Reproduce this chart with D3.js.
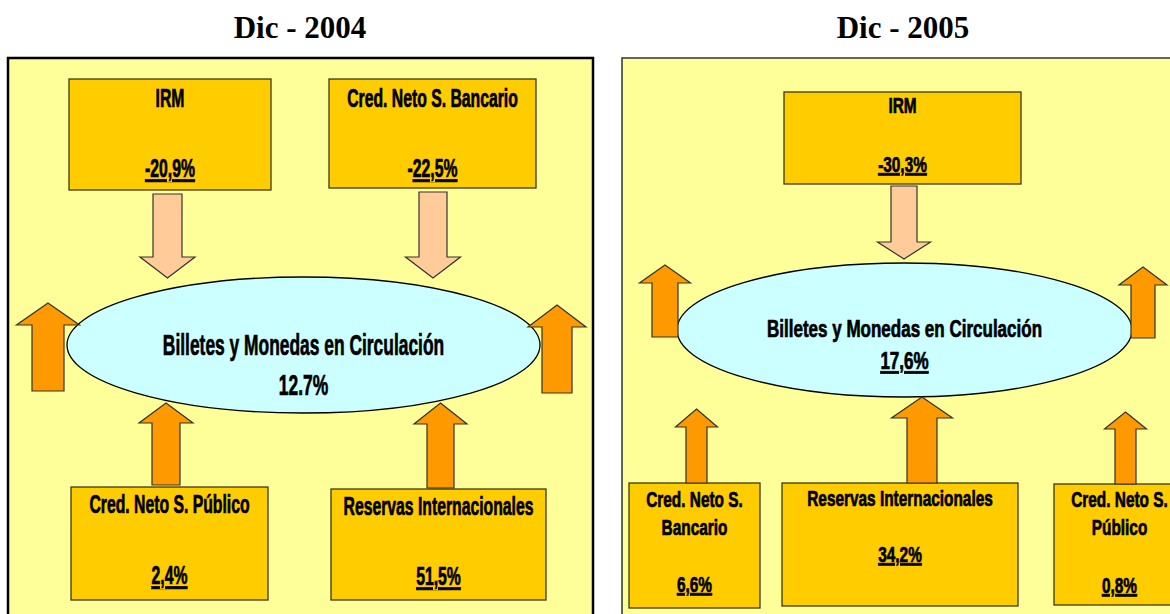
<!DOCTYPE html>
<html><head><meta charset="utf-8">
<script src="https://cdn.jsdelivr.net/npm/d3@7"></script>
<style>
html,body{margin:0;padding:0;background:#fff;}
svg{display:block;}
</style>
</head><body>
<svg id="chart" width="1170" height="614"></svg>
<script>
// ---------- DATA ----------
const panelTitles = ["Dic - 2004", "Dic - 2005"];
const centralLabel = "Billetes y Monedas en Circulación";
const centralValues = ["12.7%", "17,6%"];
const labels2004 = [["IRM"], ["Cred. Neto S. Bancario"], ["Cred. Neto S. Público"], ["Reservas Internacionales"]];
const values2004 = ["-20,9%", "-22,5%", "2,4%", "51,5%"];
const labels2005 = [["IRM"], ["Cred. Neto S.", "Bancario"], ["Reservas Internacionales"], ["Cred. Neto S.", "Público"]];
const values2005 = ["-30,3%", "6,6%", "34,2%", "0,8%"];

// ---------- LAYOUT (positions / styles) ----------
const layouts = [
  {
    panel: {x: 8, y: 58, w: 585, h: 570, stroke: "#000", sw: 2.5},
    titleX: 300,
    font: {box: 25, boxSx: 0.63, ell: 29, ellSx: 0.6},
    ellipse: {cx: 303.5, cy: 345, rx: 236.5, ry: 68, line1: 355, line2: 395, underline: false},
    boxes: [
      {x: 69, y: 79, w: 202, h: 111, lines: [107], value: 177, ulStart: 0},
      {x: 329, y: 79, w: 207, h: 109, lines: [107], value: 177, ulStart: 1},
      {x: 71, y: 487, w: 197, h: 113, lines: [513], value: 584, ulStart: 0},
      {x: 331, y: 489, w: 215, h: 111, lines: [515], value: 585, ulStart: 0}
    ],
    down: [
      {cx: 167.5, top: 194, base: 257, tip: 278, hh: 27.5, sh: 14.5},
      {cx: 433, top: 192, base: 257, tip: 278, hh: 27.5, sh: 14}
    ],
    up: [
      {cx: 48, tip: 303, base: 325, bottom: 391, hh: 31.5, sh: 16},
      {cx: 557, tip: 305, base: 327, bottom: 393, hh: 29, sh: 15},
      {cx: 166, tip: 403, base: 423, bottom: 485, hh: 27, sh: 14},
      {cx: 440.5, tip: 403, base: 424, bottom: 488, hh: 26.5, sh: 13.5}
    ]
  },
  {
    panel: {x: 622, y: 58, w: 570, h: 570, stroke: "#333", sw: 1.5},
    titleX: 903,
    font: {box: 22, boxSx: 0.70, ell: 23, ellSx: 0.74},
    ellipse: {cx: 904.5, cy: 330, rx: 227.5, ry: 67, line1: 337, line2: 369, underline: true},
    boxes: [
      {x: 784, y: 92, w: 237, h: 92, lines: [113], value: 172, ulStart: 0},
      {x: 629, y: 483, w: 131, h: 125, lines: [507, 535], value: 592, ulStart: 0},
      {x: 782, y: 483, w: 236, h: 123, lines: [506], value: 562, ulStart: 0},
      {x: 1054, y: 484, w: 131, h: 121, lines: [507, 535], value: 593, ulStart: 0}
    ],
    down: [
      {cx: 904, top: 186, base: 242, tip: 259, hh: 26.5, sh: 13}
    ],
    up: [
      {cx: 665, tip: 265, base: 283, bottom: 337, hh: 25.5, sh: 13},
      {cx: 1143, tip: 267, base: 285, bottom: 338, hh: 24, sh: 12},
      {cx: 696.5, tip: 409, base: 427, bottom: 483, hh: 21, sh: 10.5},
      {cx: 922, tip: 397, base: 418, bottom: 483, hh: 30.5, sh: 15},
      {cx: 1125.5, tip: 412, base: 429, bottom: 484, hh: 21, sh: 10.5}
    ]
  }
];

const colors = {panel: "#FFFF99", box: "#FFCC00", ellipse: "#CCFFFF", down: "#FFCC99", up: "#FF9900"};
const labelSets = [labels2004, labels2005];
const valueSets = [values2004, values2005];

// ---------- DRAW ----------
const svg = d3.select("#chart");
const x = d3.scaleIdentity().domain([0, 1170]);
const y = d3.scaleIdentity().domain([0, 614]);
const sansFont = "'Liberation Sans', Arial, sans-serif";

function upPath(a) {
  return d3.line()([
    [x(a.cx), y(a.tip)], [x(a.cx + a.hh), y(a.base)], [x(a.cx + a.sh), y(a.base)],
    [x(a.cx + a.sh), y(a.bottom)], [x(a.cx - a.sh), y(a.bottom)], [x(a.cx - a.sh), y(a.base)],
    [x(a.cx - a.hh), y(a.base)]
  ]) + "Z";
}
function downPath(a) {
  return d3.line()([
    [x(a.cx - a.sh), y(a.top)], [x(a.cx + a.sh), y(a.top)], [x(a.cx + a.sh), y(a.base)],
    [x(a.cx + a.hh), y(a.base)], [x(a.cx), y(a.tip)], [x(a.cx - a.hh), y(a.base)],
    [x(a.cx - a.sh), y(a.base)]
  ]) + "Z";
}

function addText(g, str, cx, by, size, sx, underlineFrom) {
  const t = g.append("text")
    .attr("text-anchor", "middle")
    .attr("transform", `translate(${x(cx)},${y(by)}) scale(${sx},1)`)
    .attr("font-family", sansFont)
    .attr("font-weight", "bold")
    .attr("font-size", size)
    .attr("fill", "#000")
    .attr("stroke", "#000")
    .attr("stroke-width", 0.7);
  if (underlineFrom === undefined || underlineFrom === null) {
    t.text(str);
  } else {
    if (underlineFrom > 0) t.append("tspan").text(str.slice(0, underlineFrom));
    t.append("tspan").style("text-decoration", "underline").text(str.slice(underlineFrom));
  }
  return t;
}

layouts.forEach((L, i) => {
  const g = svg.append("g");
  // title
  g.append("text")
    .attr("x", x(L.titleX)).attr("y", y(38))
    .attr("text-anchor", "middle")
    .attr("font-family", "'Liberation Serif', 'Times New Roman', serif")
    .attr("font-weight", "bold")
    .attr("font-size", 31)
    .text(panelTitles[i]);
  // panel
  g.append("rect")
    .attr("x", x(L.panel.x)).attr("y", y(L.panel.y))
    .attr("width", L.panel.w).attr("height", L.panel.h)
    .attr("fill", colors.panel).attr("stroke", L.panel.stroke).attr("stroke-width", L.panel.sw);
  // ellipse
  const E = L.ellipse;
  g.append("ellipse")
    .attr("cx", x(E.cx)).attr("cy", y(E.cy)).attr("rx", E.rx).attr("ry", E.ry)
    .attr("fill", colors.ellipse).attr("stroke", "#000").attr("stroke-width", 1.3);
  // boxes
  g.selectAll("rect.box").data(L.boxes).join("rect")
    .attr("class", "box")
    .attr("x", d => x(d.x)).attr("y", d => y(d.y))
    .attr("width", d => d.w).attr("height", d => d.h)
    .attr("fill", colors.box).attr("stroke", "#3a3a1a").attr("stroke-width", 1.3);
  // arrows
  g.selectAll("path.down").data(L.down).join("path")
    .attr("class", "down").attr("d", downPath)
    .attr("fill", colors.down).attr("stroke", "#333").attr("stroke-width", 1.2)
    .attr("stroke-linejoin", "miter");
  g.selectAll("path.up").data(L.up).join("path")
    .attr("class", "up").attr("d", upPath)
    .attr("fill", colors.up).attr("stroke", "#333").attr("stroke-width", 1.2)
    .attr("stroke-linejoin", "miter");
  // box texts
  const labels = labelSets[i], values = valueSets[i];
  L.boxes.forEach((b, j) => {
    const cx = b.x + b.w / 2;
    labels[j].forEach((ln, k) => addText(g, ln, cx, b.lines[k], L.font.box, L.font.boxSx));
    addText(g, values[j], cx, b.value, L.font.box, L.font.boxSx, b.ulStart);
  });
  // ellipse texts
  addText(g, centralLabel, E.cx, E.line1, L.font.ell, L.font.ellSx);
  addText(g, centralValues[i], E.cx, E.line2, L.font.ell, L.font.ellSx, E.underline ? 0 : null);
});
</script>
</body></html>
